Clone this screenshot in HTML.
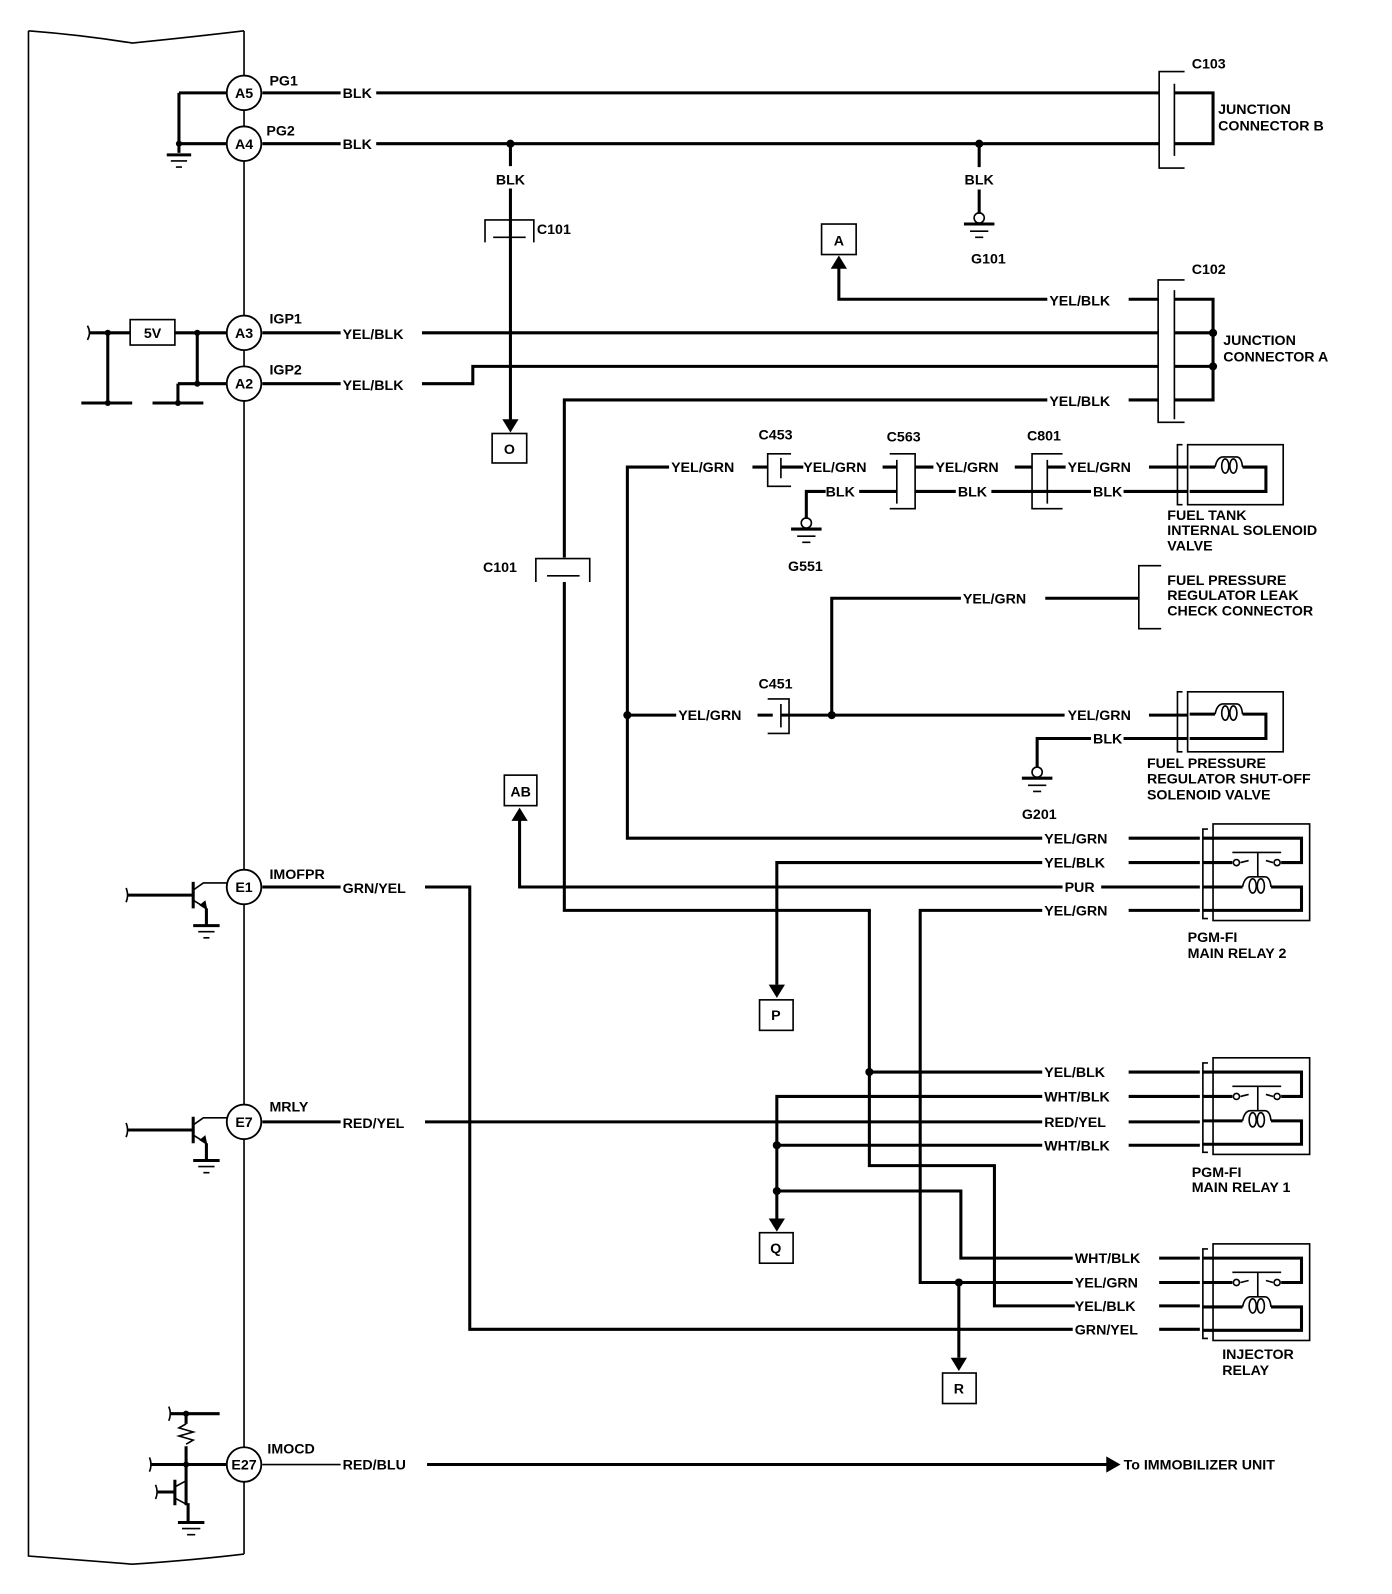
<!DOCTYPE html>
<html><head><meta charset="utf-8"><style>
html,body{margin:0;padding:0;background:#fff}
svg{display:block}
text{font-family:"Liberation Sans",Arial,sans-serif;font-weight:bold;font-size:14px;fill:#000}
.w{stroke:#000;stroke-width:3;fill:none}
.t{stroke:#000;stroke-width:1.6;fill:none}
.c{stroke:#000;stroke-width:1.8;fill:#fff}
</style></head><body>
<svg width="1392" height="1594" viewBox="0 0 1369 1567" xmlns="http://www.w3.org/2000/svg">
<path class="t" d="M28,30 Q80,34 130,42 Q190,36 240,30 M28,30 V1530 Q80,1534 130,1538 Q190,1534 240,1528 M240,30 V1528"/>
<g>
<circle class="c" cx="240" cy="91" r="17"/><text x="240" y="96" text-anchor="middle">A5</text>
<circle class="c" cx="240" cy="141" r="17"/><text x="240" y="146" text-anchor="middle">A4</text>
<circle class="c" cx="240" cy="327" r="17"/><text x="240" y="332" text-anchor="middle">A3</text>
<circle class="c" cx="240" cy="377" r="17"/><text x="240" y="382" text-anchor="middle">A2</text>
<circle class="c" cx="240" cy="872" r="17"/><text x="240" y="877" text-anchor="middle">E1</text>
<circle class="c" cx="240" cy="1103" r="17"/><text x="240" y="1108" text-anchor="middle">E7</text>
<circle class="c" cx="240" cy="1440" r="17"/><text x="240" y="1445" text-anchor="middle">E27</text>
</g>
<text x="265" y="84">PG1</text><text x="262" y="133">PG2</text>
<text x="265" y="318">IGP1</text><text x="265" y="368">IGP2</text>
<text x="265" y="864">IMOFPR</text><text x="265" y="1093">MRLY</text><text x="263" y="1429">IMOCD</text>
<path class="w" d="M176,91 H223 M176,91 V150 M176,141 H223"/>
<circle cx="176" cy="141" r="3"/>
<path class="w" d="M164,152 H188"/><path class="t" d="M168,158 H184 M173,164 H179"/>
<path class="t" d="M86,320 Q90,327 86,334"/>
<path class="w" d="M88,327 H128 M172,327 H223 M106,327 V396 M194,327 V377 M175,377 H223 M175,377 V396"/>
<path class="w" d="M80,396 H130 M150,396 H200"/>
<circle cx="106" cy="327" r="3"/><circle cx="194" cy="327" r="3"/><circle cx="194" cy="377" r="3"/><circle cx="106" cy="396" r="3"/><circle cx="175" cy="396" r="3"/>
<rect class="t" x="128" y="314" width="44" height="25"/><text x="150" y="332" text-anchor="middle">5V</text>
<g id="tr1">
<path class="t" d="M124,873 Q127,880 124,887"/>
<path class="w" d="M125,880 H190 M190,867 V893"/>
<path class="t" d="M190,875 L200,868 H223 M190,885 L203,893"/>
<path d="M204,895 L196,890 L202,885Z"/>
<path class="w" d="M203,893 V910 M190,910 H216"/><path class="t" d="M195,916 H211 M200,922 H206"/>
</g>
<use href="#tr1" y="231"/>
<path class="t" d="M147,1433 Q150,1440 147,1447 M166,1383 Q169,1390 166,1397 M153,1460 Q156,1467 153,1474"/>
<path class="w" d="M148,1440 H223 M167,1390 H216 M183,1390 V1400 M183,1422 V1480"/>
<path class="t" d="M183,1400 L176,1404 L190,1408 L176,1412 L190,1416 L183,1420"/>
<circle cx="183" cy="1390" r="3"/><circle cx="183" cy="1440" r="3"/>
<path class="w" d="M155,1467 H172 M172,1455 V1480"/>
<path class="t" d="M172,1462 L183,1456 M172,1473 L185,1480"/>
<path class="w" d="M185,1478 V1497 M175,1497 H201"/><path class="t" d="M179,1503 H197 M184,1509 H192"/>
<path class="w" d="M258,91 H335 M370,91 H1140 M258,141 H335 M370,141 H1140"/>
<text x="337" y="96">BLK</text><text x="337" y="146">BLK</text>
<circle cx="502" cy="141" r="4"/><circle cx="963" cy="141" r="4"/>
<path class="w" d="M502,141 V163 M502,185 V415 M963,141 V164 M963,186 V210"/>
<text x="502" y="181" text-anchor="middle">BLK</text><text x="963" y="181" text-anchor="middle">BLK</text>
<path class="t" d="M477,238 V216 H525 V238 M485,233 H517"/><text x="528" y="230">C101</text>
<path d="M494,412 L510,412 L502,425Z"/>
<rect class="t" x="484" y="426" width="34" height="29"/><text x="501" y="446" text-anchor="middle">O</text>
<circle class="t" cx="963" cy="214" r="5"/>
<path class="w" d="M948,220 H978"/><path class="t" d="M954,227 H972 M959,233 H967"/>
<text x="955" y="259">G101</text>
<path class="t" d="M1165,70 H1140 V165 H1165 M1155,82 V153"/>
<path class="w" d="M1155,91 H1193 V141 H1155"/>
<text x="1172" y="67">C103</text>
<text x="1198" y="112">JUNCTION</text><text x="1198" y="128">CONNECTOR B</text>
<path class="t" d="M1165,275 H1139 V415 H1165 M1155,285 V412"/>
<path class="w" d="M1155,294 H1193 V393 H1155 M1155,327 H1193 M1155,360 H1193"/>
<circle cx="1193" cy="327" r="4"/><circle cx="1193" cy="360" r="4"/>
<text x="1172" y="269">C102</text>
<text x="1203" y="339">JUNCTION</text><text x="1203" y="355">CONNECTOR A</text>
<rect class="t" x="808" y="220" width="34" height="30"/><text x="825" y="241" text-anchor="middle">A</text>
<path d="M817,264 L833,264 L825,251Z"/>
<path class="w" d="M825,262 V294 H1030 M1110,294 H1139"/><text x="1032" y="300">YEL/BLK</text>
<path class="w" d="M258,327 H335 M415,327 H1139 M258,377 H335 M415,377 H465 V360 H1139"/>
<text x="337" y="333">YEL/BLK</text><text x="337" y="383">YEL/BLK</text>
<path class="w" d="M1030,393 H555 V548 M555,572 V895 H855 V1146 H978 V1284 H1057 M1110,393 H1139"/>
<text x="1032" y="399">YEL/BLK</text>
<path class="t" d="M527,572 V549 H580 V572 M538,566 H570"/><text x="475" y="562">C101</text>
<path class="w" d="M658,459 H617 V824 H1025 M1110,824 H1180"/>
<circle cx="617" cy="703" r="4"/>
<text x="660" y="464">YEL/GRN</text>
<path class="w" d="M740,459 H755 M768,459 H790 M868,459 H882 M900,459 H918 M998,459 H1015 M1030,459 H1048 M1130,459 H1168"/>
<text x="790" y="464">YEL/GRN</text><text x="920" y="464">YEL/GRN</text><text x="1050" y="464">YEL/GRN</text>
<path class="t" d="M778,446 H755 V478 H778 M768,450 V470"/>
<path class="t" d="M875,446 H900 V500 H875 M882,452 V495"/>
<path class="t" d="M1045,446 H1015 V500 H1045 M1030,452 V495"/>
<text x="746" y="432">C453</text><text x="872" y="434">C563</text><text x="1010" y="433">C801</text>
<path class="w" d="M793,510 V483 H812 M845,483 H882 M900,483 H940 M975,483 H1030 M1030,483 H1073 M1105,483 H1168"/>
<text x="812" y="488">BLK</text><text x="942" y="488">BLK</text><text x="1075" y="488">BLK</text>
<circle class="t" cx="793" cy="514" r="5"/><path class="w" d="M778,520 H808"/><path class="t" d="M784,527 H802 M789,533 H797"/>
<text x="775" y="561">G551</text>
<g id="sol">
<path class="t" d="M1163,437 H1158 V496 H1163 M1168,437 H1262 V496 H1168 Z"/>
<path class="w" d="M1170,459 H1195 M1222,459 H1245 V483 H1170"/>
<path class="t" d="M1195,459 Q1197,449 1203,449 H1216 Q1221,449 1222,459"/>
<ellipse class="t" cx="1205" cy="458" rx="3.5" ry="7"/><ellipse class="t" cx="1213" cy="458" rx="3.5" ry="7"/>
</g>
<text x="1148" y="511">FUEL TANK</text><text x="1148" y="526">INTERNAL SOLENOID</text><text x="1148" y="541">VALVE</text>
<path class="w" d="M818,703 V588 H945 M1028,588 H1120"/>
<text x="947" y="593">YEL/GRN</text>
<path class="t" d="M1142,556 H1120 V618 H1142"/>
<text x="1148" y="575">FUEL PRESSURE</text><text x="1148" y="590">REGULATOR LEAK</text><text x="1148" y="605">CHECK CONNECTOR</text>
<path class="w" d="M617,703 H665 M745,703 H760 M768,703 H1047 M1130,703 H1168"/>
<circle cx="818" cy="703" r="4"/>
<text x="667" y="708">YEL/GRN</text><text x="1050" y="708">YEL/GRN</text>
<path class="t" d="M755,687 H776 V721 H755 M768,692 V715"/><text x="746" y="677">C451</text>
<path class="w" d="M1020,755 V726 H1073 M1105,726 H1168"/><text x="1075" y="731">BLK</text>
<circle class="t" cx="1020" cy="759" r="5"/><path class="w" d="M1005,765 H1035"/><path class="t" d="M1011,772 H1029 M1016,778 H1024"/>
<text x="1005" y="805">G201</text>
<use href="#sol" y="243"/>
<text x="1128" y="755">FUEL PRESSURE</text><text x="1128" y="770">REGULATOR SHUT-OFF</text><text x="1128" y="786">SOLENOID VALVE</text>
<rect class="t" x="496" y="762" width="32" height="30"/><text x="512" y="783" text-anchor="middle">AB</text>
<path d="M503,807 L519,807 L511,794Z"/>
<path class="w" d="M511,805 V872 H1045 M1083,872 H1180"/><text x="1047" y="877">PUR</text>
<path class="w" d="M1025,848 H764 V968 M1110,848 H1180"/><text x="1027" y="853">YEL/BLK</text>
<path d="M756,968 L772,968 L764,981Z"/>
<rect class="t" x="747" y="983" width="33" height="30"/><text x="763" y="1003" text-anchor="middle">P</text>
<path class="w" d="M1025,895 H905 V1261 H1055 M1110,895 H1180"/><text x="1027" y="900">YEL/GRN</text>
<text x="1027" y="829">YEL/GRN</text>
<path class="w" d="M258,872 H335 M418,872 H462 V1307 H1055 M1140,1307 H1180"/><text x="337" y="878">GRN/YEL</text>
<circle cx="855" cy="1054" r="4"/>
<path class="w" d="M855,1054 H1025 M1110,1054 H1180"/><text x="1027" y="1059">YEL/BLK</text>
<path class="w" d="M1025,1078 H764 V1200 M1110,1078 H1180"/><text x="1027" y="1083">WHT/BLK</text>
<path class="w" d="M258,1103 H335 M418,1103 H1025 M1110,1103 H1180"/><text x="337" y="1109">RED/YEL</text><text x="1027" y="1108">RED/YEL</text>
<path class="w" d="M764,1126 H1025 M1110,1126 H1180"/><text x="1027" y="1131">WHT/BLK</text>
<circle cx="764" cy="1126" r="4"/><circle cx="764" cy="1171" r="4"/>
<path class="w" d="M764,1171 H945 V1237 H1055 M1140,1237 H1180"/>
<path d="M756,1198 L772,1198 L764,1211Z"/>
<rect class="t" x="747" y="1212" width="33" height="30"/><text x="763" y="1232" text-anchor="middle">Q</text>
<text x="1057" y="1242">WHT/BLK</text><text x="1057" y="1266">YEL/GRN</text><text x="1057" y="1289">YEL/BLK</text><text x="1057" y="1312">GRN/YEL</text>
<path class="w" d="M1140,1261 H1180 M1140,1284 H1180"/>
<circle cx="943" cy="1261" r="4"/>
<path class="w" d="M943,1261 V1335"/><path d="M935,1335 L951,1335 L943,1348Z"/>
<rect class="t" x="927" y="1350" width="33" height="30"/><text x="943" y="1370" text-anchor="middle">R</text>
<g id="rl">
<path class="t" d="M1188,815 H1183 V903 H1188"/>
<rect class="t" x="1193" y="810" width="95" height="95"/>
<path class="w" d="M1183,824 H1280 V848 H1260 M1183,848 H1212 M1183,872 H1222 M1250,872 H1280 V895 H1183"/>
<circle class="t" cx="1216" cy="848" r="3"/><circle class="t" cx="1256" cy="848" r="3"/>
<path class="t" d="M1212,838 H1260 M1237,838 V862 M1220,848 L1228,846 M1245,846 L1252,848"/>
<path class="t" d="M1222,872 Q1224,862 1230,862 H1244 Q1249,862 1250,872"/>
<ellipse class="t" cx="1232" cy="871" rx="3.5" ry="7"/><ellipse class="t" cx="1240" cy="871" rx="3.5" ry="7"/>
</g>
<use href="#rl" y="230"/>
<use href="#rl" y="413"/>
<text x="1168" y="926">PGM-FI</text><text x="1168" y="942">MAIN RELAY 2</text>
<text x="1172" y="1157">PGM-FI</text><text x="1172" y="1172">MAIN RELAY 1</text>
<text x="1202" y="1336">INJECTOR</text><text x="1202" y="1352">RELAY</text>
<path class="t" d="M258,1440 H335"/><text x="337" y="1445">RED/BLU</text>
<path class="w" d="M420,1440 H1090"/><path d="M1088,1432 L1102,1440 L1088,1448Z"/>
<text x="1105" y="1445">To IMMOBILIZER UNIT</text>
</svg>
</body></html>
